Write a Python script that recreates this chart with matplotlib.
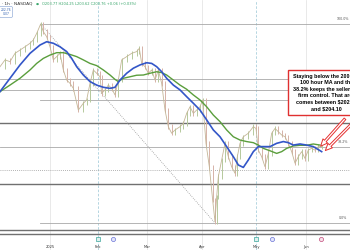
import matplotlib.pyplot as plt
import numpy as np

# hourly bar index (chart x position) and closing prices
bars = [0, 15, 30, 45, 60, 75, 90, 100, 110, 122, 130, 140, 150, 160, 170, 180, 190, 200,
        210, 220, 235, 250, 260, 270, 280, 290, 300, 305, 315, 325, 335, 345, 355, 365,
        380, 395, 410, 418, 425, 435, 445, 455, 465, 475, 485, 495, 505, 515, 525, 540,
        550, 560, 570, 580, 590, 600, 608, 618, 628, 638, 645, 650, 655, 665, 675, 685,
        695, 705, 712, 720, 730, 745, 760, 768, 775, 785, 795, 805, 815, 825, 835, 845,
        855, 865, 875, 885, 895, 905, 915, 925, 935, 945, 955, 965]
close = [240.6, 243.7, 242.9, 246.7, 248.2, 249.7, 251.3, 252.8, 255.8, 260.1, 256.6, 254.3,
         249.7, 243.7, 245.2, 246.7, 239.1, 234.5, 233.0, 230.7, 220.8, 223.9, 225.4, 233.0,
         239.1, 237.6, 236.0, 228.4, 230.0, 232.2, 230.7, 227.7, 234.5, 243.7, 245.2, 246.7,
         247.5, 249.0, 242.1, 240.6, 237.6, 239.1, 234.5, 239.1, 233.0, 220.8, 213.2, 210.2,
         211.7, 213.2, 214.7, 219.3, 222.3, 219.3, 220.8, 222.3, 225.4, 205.6, 194.9, 179.7,
         169.8, 181.2, 190.4, 198.0, 205.6, 199.5, 194.9, 191.9, 199.5, 205.6, 208.6, 210.2,
         213.2, 212.4, 202.5, 199.5, 194.9, 201.0, 210.2, 212.4, 210.9, 209.4, 208.6, 205.6,
         201.8, 196.5, 199.5, 201.8, 198.7, 202.5, 203.3, 202.5, 204.1, 204.1]

ma100_x = [0, 30, 60, 90, 120, 140, 160, 180, 200, 215, 230, 250, 270, 290, 310, 330, 345,
           360, 380, 400, 420, 440, 455, 470, 485, 500, 520, 540, 560, 580, 600, 620, 640,
           660, 680, 700, 715, 730, 745, 760, 775, 790, 810, 830, 850, 865, 880, 900, 920,
           940, 965]
ma100 = [229.2, 235.3, 241.4, 246.7, 250.5, 252.0, 251.3, 249.7, 247.5, 244.4, 240.6, 236.8,
         233.8, 232.2, 231.2, 230.7, 231.2, 234.5, 237.6, 239.9, 241.4, 242.4, 242.1, 240.6,
         238.3, 235.3, 232.2, 230.0, 226.9, 223.9, 220.8, 216.3, 211.7, 208.6, 204.1, 199.5,
         195.7, 194.6, 198.0, 201.8, 204.1, 204.1, 204.1, 205.6, 206.4, 205.9, 204.8, 205.3,
         204.8, 204.1, 201.8]

ma200_x = [0, 30, 60, 90, 110, 130, 150, 170, 190, 210, 230, 250, 270, 290, 310, 330, 345,
           355, 370, 390, 410, 430, 450, 470, 485, 500, 520, 540, 560, 580, 600, 620, 640,
           660, 680, 700, 720, 740, 760, 775, 790, 810, 830, 845, 860, 880, 900, 920, 940,
           960]
ma200 = [229.2, 232.2, 235.3, 239.1, 242.1, 244.4, 245.9, 247.0, 247.0, 246.2, 245.2, 243.7,
         242.1, 241.1, 239.1, 236.8, 234.8, 233.8, 235.3, 236.0, 236.7, 236.8, 237.6, 238.3,
         237.9, 236.8, 234.5, 232.2, 230.3, 227.7, 225.4, 222.3, 218.5, 215.5, 211.7, 208.6,
         207.1, 206.4, 205.9, 204.8, 203.3, 202.2, 201.0, 201.8, 203.3, 204.4, 204.7, 204.7,
         205.3, 204.8]

# swing high / low used for the retracement
swing_high = (122, 260.10)
swing_low = (645, 169.21)
fib_levels = [1.0, 0.382, 0.0]
fib_labels = ["100.0%", "38.2%", "0.0%"]

# other horizontal levels
thin_levels = [235.0, 229.9]
thin_levels_partial = [225.4]
thick_levels = [214.9, 187.0, 166.0, 164.1]
dotted_level = 193.4

month_pos = [150, 295, 440, 605, 768, 918]
month_names = ["2025", "Feb", "Mar", "Apr", "May", "Jun"]

fig = plt.figure(figsize=(3.5, 2.5), dpi=100)
ax = fig.add_axes([0, 0, 1, 1])
ax.set_xlim(0, 1050)
ax.set_ylim(156.88, 271.06)
ax.axis("off")

# vertical grid
for p in month_pos:
    if p in (295, 768):
        ax.axvline(p, color="#a9cfdc", lw=0.6, ls=(0, (3, 2)), zorder=1)
    else:
        ax.axvline(p, color="#e0e0e0", lw=0.5, zorder=1)

# horizontal levels
for lv in thin_levels:
    ax.axhline(lv, color="#a8a8a8", lw=0.6, zorder=1)
for lv in thin_levels_partial:
    ax.plot([120, 1050], [lv, lv], color="#a8a8a8", lw=0.6, zorder=1)
for lv in thick_levels:
    ax.axhline(lv, color="#707070", lw=1.0, zorder=1)
ax.axhline(dotted_level, color="#999999", lw=0.6, ls=(0, (1, 1.5)), zorder=1)

rng = swing_high[1] - swing_low[1]
for f, lab in zip(fib_levels, fib_labels):
    lv = swing_low[1] + f * rng
    if f == 0.382:
        ax.axhline(lv, color="#a8a8a8", lw=0.6, zorder=1)
    else:
        ax.plot([120, 1050], [lv, lv], color="#a8a8a8", lw=0.6, zorder=1)
    ax.text(1030, lv + 1.2, lab, fontsize=2.3, color="#555555", ha="center", va="bottom")

ax.plot([swing_high[0], swing_low[0]], [swing_high[1], swing_low[1]],
        color="#999999", lw=0.6, ls=(0, (1, 1.5)), zorder=1)

# price bars
x = np.array(bars)
c = np.array(close)
for i in range(1, len(c)):
    col = "#b5c99c" if c[i] >= c[i - 1] else "#d6b2a8"
    ax.vlines(x[i], min(c[i], c[i - 1]) - 1.0, max(c[i], c[i - 1]) + 1.0, color=col, lw=0.7, zorder=2)
ax.plot(x, c, color="#c4b697", lw=0.6, zorder=2)

# moving averages
ax.plot(ma200_x, ma200, color="#5a9e3c", lw=1.0, zorder=3)
ax.plot(ma100_x, ma100, color="#3356c8", lw=1.2, zorder=3)

# annotation
ax.text(980, 228.8,
        "Staying below the 200 and\n100 hour MA and the\n38.2% keeps the sellers in\n"
        "firm control. That area\ncomes between $202.53\nand $204.10",
        family="Liberation Sans", fontsize=3.9, fontweight="bold", ha="center", va="center",
        linespacing=1.35, zorder=5,
        bbox=dict(boxstyle="square,pad=0.8", fc="white", ec="#e03030", lw=1.0))
for (x0, y0), (x1, y1) in [((1035, 216.8), (962, 204.3)), ((1056, 214.6), (976, 202.3))]:
    ax.annotate("", xy=(x1, y1), xytext=(x0, y0), zorder=5,
                arrowprops=dict(arrowstyle="simple,head_width=0.45,head_length=0.5,tail_width=0.16",
                                fc="white", ec="#e53030", lw=0.7, shrinkA=0, shrinkB=0))

# month labels & markers
for p, m in zip(month_pos, month_names):
    ax.text(p, 158.2, m, fontsize=2.6, color="#333333", ha="center", va="center")
ax.scatter([295, 768], [161.9, 161.9], s=9, marker="s", fc="#dff0ee", ec="#3aa69b", lw=0.5, zorder=6)
ax.scatter([340, 815], [161.9, 161.9], s=9, marker="o", fc="#e3e6fb", ec="#6b74d6", lw=0.5, zorder=6)
ax.scatter([962], [161.9], s=9, marker="o", fc="#f6e1ea", ec="#c24b7a", lw=0.5, zorder=6)

# header
fig.text(32.5 / 350, 1 - 4 / 250, "Apple Inc · 1h · NASDAQ", fontsize=3.2, color="#333333",
         ha="right", va="center")
fig.text(37.5 / 350, 1 - 4 / 250, "●", fontsize=2.5, color="#3aa66b", ha="center", va="center")
fig.text(42 / 350, 1 - 4 / 250, "O203.77 H204.25 L203.62 C203.76 +0.06 (+0.03%)",
         fontsize=2.6, color="#3aa66b", ha="left", va="center")
fig.text(6 / 350, 1 - 12 / 250, "202.76\n0.07", fontsize=2.2, color="#2f5fb0", ha="center",
         va="center", linespacing=1.1,
         bbox=dict(boxstyle="round,pad=0.4", fc="white", ec="#7d9bd0", lw=0.4))

fig.savefig("out.png", dpi=100)
